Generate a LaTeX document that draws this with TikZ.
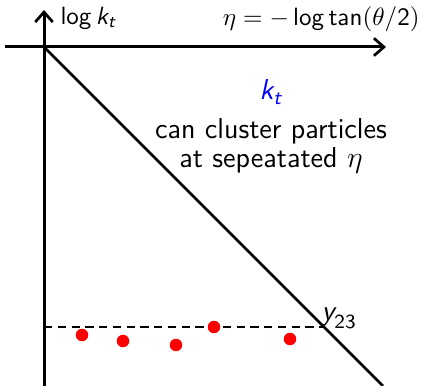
\documentclass[tikz,border=0pt]{standalone}
\usepackage{amsmath}
\usetikzlibrary{arrows.meta}
\newcommand\mk[1]{\text{\sffamily\itshape #1}}
\tikzset{
  axis/.style={line width=1.2pt,-{Straight Barb[length=4pt,width=7pt,line width=1.1pt]}},
  diag/.style={line width=1pt},
  dashedline/.style={line width=1.1pt,dash pattern=on 3.3pt off 2.2pt},
  dot/.style={circle,fill=red,inner sep=0pt,minimum size=5pt},
  lbl/.style={font=\sffamily,inner sep=0pt},
  big/.style={font=\sffamily\fontsize{11.5}{11.6}\selectfont,inner sep=0pt}
}
\begin{document}
\begin{tikzpicture}[x=0.4pt,y=-0.4pt]
\useasboundingbox (0,0) rectangle (421,386);
\coordinate (O) at (44,47);
\coordinate (xl) at (5,47);
\coordinate (xr) at (386,47);
\coordinate (yb) at (44,386);
\coordinate (yt) at (44,10);
\coordinate (de) at (383,386);
\coordinate (dl) at (44,327);
\coordinate (dr) at (324,327);
\draw[axis] (xl) -- (xr);
\draw[axis] (yb) -- (yt);
\draw[diag] (O) -- (de);
\draw[dashedline] (dl) -- (dr);
\node[lbl,anchor=west] (ylab) at (60,18) {$\mathsf{log}\,\mk{k}_{\mk{t}}$};
\node[lbl,anchor=east] (xlab) at (420,19) {$\eta = -\,\mathsf{log}\,\mathsf{tan}\mathsf{(}\theta\mathsf{/2)}$};
\node[big,text=blue,anchor=base] (kt) at (271,100) {$\mk{k}_{\mk{t}}$};
\node[big,anchor=base] (txt1) at (271,139) {can cluster particles};
\node[big,anchor=base] (txt2) at (271,168) {at sepeatated $\eta$};
\node[big,anchor=base west] (y23) at (321,321) {$\mk{y}_{\mathsf{23}}$};
\node[dot] (p1) at (82,335) {};
\node[dot] (p2) at (123,341) {};
\node[dot] (p3) at (176,345) {};
\node[dot] (p4) at (214,327) {};
\node[dot] (p5) at (290,339) {};
\end{tikzpicture}
\end{document}
